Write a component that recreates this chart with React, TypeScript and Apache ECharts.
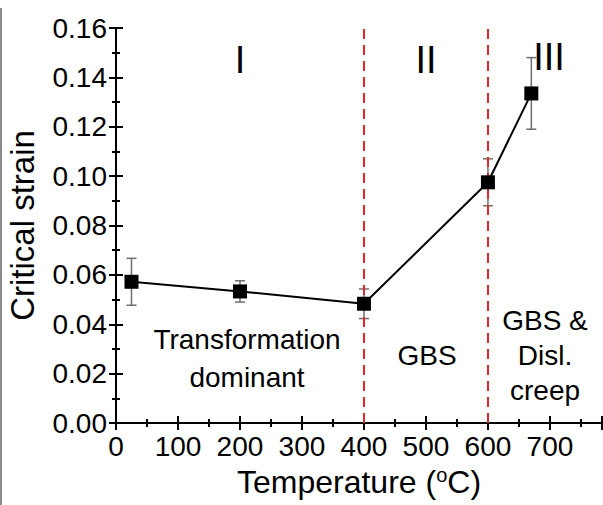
import React, { useEffect, useRef } from "react";
import * as echarts from "echarts";

const temperatures = [25, 200, 400, 600, 670];
const criticalStrain = [0.0572, 0.0533, 0.0483, 0.0975, 0.1335];
const strainError = [0.0095, 0.0043, 0.006, 0.0095, 0.0145];
const regimeBoundaries = [400, 600];
const xTicks = [0, 100, 200, 300, 400, 500, 600, 700];
const yTicks = [0, 0.02, 0.04, 0.06, 0.08, 0.1, 0.12, 0.14, 0.16];

const FONT = "'Liberation Sans', Arial, sans-serif";

export default function App() {
  const ref = useRef<HTMLDivElement>(null);
  useEffect(() => {
    if (!ref.current) return;
    const chart = echarts.init(ref.current, null, { renderer: "svg" });
    const axisLine = { show: true, lineStyle: { color: "#000", width: 2 } };
    const tickStyle = { show: true, inside: true, length: 7, lineStyle: { color: "#000", width: 2 } };
    const minorStyle = { show: true, splitNumber: 2, length: 4, lineStyle: { color: "#000", width: 2 } };
    const xMax = 784;
    const option: any = {
      animation: false,
      backgroundColor: "#fff",
      textStyle: { fontFamily: FONT },
      grid: { left: 116, top: 28, right: 1, bottom: 82, containLabel: false, outerBoundsMode: "none" },
      xAxis: [
        {
          type: "value",
          min: 0,
          max: xMax,
          interval: 100,
          position: "bottom",
          axisLine,
          axisTick: tickStyle,
          minorTick: minorStyle,
          splitLine: { show: false },
          axisLabel: {
            color: "#000",
            fontSize: 28,
            fontFamily: FONT,
            margin: 9,
            showMaxLabel: false,
            formatter: (v: number) => (xTicks.includes(v) ? String(v) : ""),
          },
          name: "Temperature ({s|o}C)",
          nameLocation: "middle",
          nameGap: 42,
          nameTextStyle: {
            color: "#000",
            fontSize: 32,
            fontFamily: FONT,
            rich: { s: { fontSize: 20, fontFamily: FONT, color: "#000", padding: [0, 0, 14, 0] } },
          },
        },
        {
          type: "value",
          min: 0,
          max: xMax,
          interval: 100,
          position: "top",
          axisLine,
          axisTick: tickStyle,
          minorTick: minorStyle,
          splitLine: { show: false },
          axisLabel: { show: false },
        },
      ],
      yAxis: [
        {
          type: "value",
          min: 0,
          max: 0.16,
          interval: 0.02,
          position: "left",
          axisLine,
          axisTick: tickStyle,
          minorTick: minorStyle,
          splitLine: { show: false },
          axisLabel: {
            color: "#000",
            fontSize: 28,
            fontFamily: FONT,
            margin: 9,
            formatter: (v: number) => {
              const hit = yTicks.find((t) => Math.abs(t - v) < 1e-9);
              return hit === undefined ? "" : hit.toFixed(2);
            },
          },
          name: "Critical strain",
          nameLocation: "middle",
          nameGap: 77,
          nameTextStyle: { color: "#000", fontSize: 33, fontFamily: FONT },
        },
        {
          type: "value",
          min: 0,
          max: 0.16,
          interval: 0.02,
          position: "right",
          axisLine,
          axisTick: tickStyle,
          minorTick: minorStyle,
          splitLine: { show: false },
          axisLabel: { show: false },
        },
      ],
      series: [
        {
          type: "custom",
          xAxisIndex: 0,
          yAxisIndex: 0,
          z: 2,
          data: temperatures.map((t, i) => [t, criticalStrain[i], strainError[i]]),
          renderItem: (params: any, api: any) => {
            const x = api.value(0);
            const y = api.value(1);
            const e = api.value(2);
            const top = api.coord([x, y + e]);
            const bot = api.coord([x, y - e]);
            const cap = 5;
            const style = { stroke: "#6e6e6e", lineWidth: 1.5 };
            return {
              type: "group",
              children: [
                { type: "line", shape: { x1: top[0], y1: top[1], x2: bot[0], y2: bot[1] }, style },
                { type: "line", shape: { x1: top[0] - cap, y1: top[1], x2: top[0] + cap, y2: top[1] }, style },
                { type: "line", shape: { x1: bot[0] - cap, y1: bot[1], x2: bot[0] + cap, y2: bot[1] }, style },
              ],
            };
          },
        },
        {
          type: "line",
          xAxisIndex: 0,
          yAxisIndex: 0,
          z: 5,
          data: temperatures.map((t, i) => [t, criticalStrain[i]]),
          symbol: "rect",
          symbolSize: 14,
          itemStyle: { color: "#000" },
          lineStyle: { color: "#000", width: 2 },
          markLine: {
            silent: true,
            symbol: ["none", "none"],
            label: { show: false },
            lineStyle: { color: "#e8262a", type: [10, 6], width: 2 },
            data: regimeBoundaries.map((b) => ({ xAxis: b })),
          },
        },
      ],
      graphic: [
        { type: "line", shape: { x1: 1, y1: 8, x2: 1, y2: 505 }, style: { stroke: "#8a8a8a", lineWidth: 2 } },
        { type: "text", x: 240, y: 60, style: { text: "I", fontSize: 38, fontFamily: FONT, fill: "#000", align: "center", verticalAlign: "middle" } },
        { type: "text", x: 426, y: 60, style: { text: "II", fontSize: 38, fontFamily: FONT, fill: "#000", align: "center", verticalAlign: "middle" } },
        { type: "text", x: 549, y: 57, style: { text: "III", fontSize: 38, fontFamily: FONT, fill: "#000", align: "center", verticalAlign: "middle" } },
        { type: "text", x: 247, y: 358, style: { text: "Transformation\ndominant", fontSize: 28, lineHeight: 38, fontFamily: FONT, fill: "#000", align: "center", verticalAlign: "middle" } },
        { type: "text", x: 427, y: 355, style: { text: "GBS", fontSize: 28, fontFamily: FONT, fill: "#000", align: "center", verticalAlign: "middle" } },
        { type: "text", x: 545, y: 355, style: { text: "GBS &\nDisl.\ncreep", fontSize: 28, lineHeight: 35, fontFamily: FONT, fill: "#000", align: "center", verticalAlign: "middle" } },
      ],
    };
    chart.setOption(option);
    return () => chart.dispose();
  }, []);
  return (
    <div
      ref={ref}
      style={{ position: "fixed", left: 0, top: 0, width: 603, height: 505, background: "#fff" }}
    />
  );
}
